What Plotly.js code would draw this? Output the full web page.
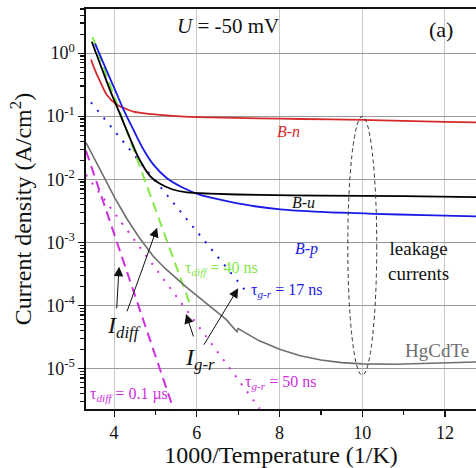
<!DOCTYPE html>
<html>
<head>
<meta charset="utf-8">
<script src="https://cdn.plot.ly/plotly-3.0.1.min.js"></script>
<style>
  html, body { margin: 0; padding: 0; background: #fff; }
  #chart { width: 476px; height: 468px; }
</style>
</head>
<body>
<div id="chart"></div>
<script>
// ---- data (x = 1000/T in 1/K, y = current density in A/cm^2) ----
const bnX = [3.44, 3.55, 3.66, 3.82, 4.07, 4.23, 4.47, 4.79, 5.11, 5.6, 6.32, 7.5, 8.5, 10, 11, 12, 12.75];
const bnY = [0.794, 0.513, 0.355, 0.219, 0.151, 0.135, 0.1175, 0.1096, 0.1047, 0.0989, 0.0955, 0.0923, 0.0902, 0.0871, 0.0841, 0.0813, 0.0794];

const buX = [3.46, 3.7, 3.92, 4.15, 4.39, 4.59, 4.87, 5.1, 5.4, 5.76, 6.32, 7.5, 9, 11, 12.75];
const buY = [1.514, 0.575, 0.240, 0.1047, 0.0437, 0.0219, 0.01122, 0.00851, 0.00692, 0.00617, 0.00589, 0.00562, 0.00550, 0.00537, 0.00519];

const bpX = [3.54, 3.78, 4.02, 4.23, 4.47, 4.71, 4.95, 5.27, 5.68, 6.08, 6.32, 6.81, 7.4, 8.02, 9.0, 10.27, 11.5, 12.75];
const bpY = [1.413, 0.603, 0.263, 0.126, 0.0603, 0.0295, 0.0170, 0.01047, 0.00724, 0.00562, 0.00513, 0.00437, 0.00372, 0.00331, 0.00302, 0.00282, 0.00269, 0.00257];

const hgX = [3.32, 3.66, 4.02, 4.3, 4.61, 4.94, 5.24, 5.74, 6.3, 6.7, 6.97, 7.0, 7.5, 8.0, 8.5, 9.0, 9.5, 10, 10.8, 11.5, 12.2, 12.75];
const hgY = [0.0380, 0.01413, 0.00501, 0.00240, 0.001175, 6.03e-4, 3.80e-4, 1.95e-4, 1.0e-4, 6.03e-5, 3.80e-5, 4.27e-5, 2.75e-5, 2.0e-5, 1.585e-5, 1.35e-5, 1.23e-5, 1.175e-5, 1.16e-5, 1.19e-5, 1.23e-5, 1.26e-5];

const diff40X = [3.48, 4.87, 5.85];
const diff40Y = [1.795, 0.00562, 9.8e-5];

const gr17X = [3.44, 5.35, 7.15];
const gr17Y = [0.166, 0.0049, 1.78e-4];

const diff100X = [3.32, 5.43];
const diff100Y = [0.0282, 2.3e-6];

const gr50X = [3.32, 5.82, 7.52];
const gr50Y = [0.01175, 7.4e-5, 2.29e-6];

const xTickVals = [4, 6, 8, 10, 12];
const yTickVals = [1e-5, 1e-4, 1e-3, 1e-2, 1e-1, 1];
const yTickText = ['10<sup>-5</sup>', '10<sup>-4</sup>', '10<sup>-3</sup>', '10<sup>-2</sup>', '10<sup>-1</sup>', '10<sup>0</sup>'];

// ---- styles ----
const SERIF = 'Liberation Serif, Times New Roman, serif';
const RED = '#d42a2a', BLUE = '#1a1ae6', GREEN = '#84e84a', MAG = '#d02ee0', GRAY = '#6e6e6e';

function line(x, y, color, width, dash, smooth) {
  return { x: x, y: y, type: 'scatter', mode: 'lines', hoverinfo: 'skip',
           line: { color: color, width: width, dash: dash || 'solid',
                   shape: smooth ? 'spline' : 'linear', smoothing: 0.8 } };
}

const traces = [
  line(gr50X, gr50Y, MAG, 2, '2px,8px'),
  line(diff100X, diff100Y, MAG, 2, '10px,6px'),
  line(gr17X, gr17Y, BLUE, 2, '2px,8px'),
  line(diff40X, diff40Y, GREEN, 2, '10px,6px'),
  line(hgX, hgY, GRAY, 1.6),
  line(bnX, bnY, RED, 1.8, null, true),
  line(bpX, bpY, BLUE, 1.8, null, true),
  line(buX, buY, '#000', 1.8, null, true)
];

function txt(text, x, ly, size, color, opts) {
  return Object.assign({ text: text, x: x, y: ly, xref: 'x', yref: 'y', showarrow: false,
    xanchor: 'center', yanchor: 'middle', font: { family: SERIF, size: size, color: color } }, opts || {});
}
function arrow(tx, tly, hx, hly) {
  return { text: '', x: hx, y: hly, ax: tx, ay: tly, xref: 'x', yref: 'y', axref: 'x', ayref: 'y',
    showarrow: true, arrowhead: 2, arrowsize: 1.9, arrowwidth: 1, arrowcolor: '#111' };
}

const annotations = [
  txt('<i>U</i> = -50 mV', 6.76, 0.433, 21, '#111'),
  txt('(a)', 11.91, 0.37, 22, '#111'),
  txt('<i>B-n</i>', 8.21, -1.249, 16, RED),
  txt('<i>B-u</i>', 8.57, -2.37, 16, '#111'),
  txt('<i>B-p</i>', 8.64, -3.10, 16, BLUE),
  txt('leakage<br>currents', 11.37, -3.30, 19, '#111'),
  txt('HgCdTe', 11.81, -4.725, 19, GRAY),
  txt('τ<sub><i>g-r</i></sub> = 50 ns', 7.12, -5.23, 16, MAG, { xanchor: 'left' }),
  txt('τ<sub><i>g-r</i></sub> = 17 ns', 7.26, -3.77, 16, BLUE, { xanchor: 'left' }),
  txt('τ<sub><i>diff</i></sub> = 40 ns', 5.67, -3.41, 16, GREEN, { xanchor: 'left' }),
  txt('τ<sub><i>diff</i></sub> = 0.1 µs', 3.37, -5.42, 16, MAG, { xanchor: 'left' }),
  txt('<i>I</i><sub><i>diff</i></sub>', 3.78, -4.35, 24, '#111', { xanchor: 'left' }),
  txt('<i>I</i><sub><i>g-r</i></sub>', 5.67, -4.85, 24, '#111', { xanchor: 'left' }),
  arrow(4.06, -4.074, 4.12, -3.39),
  arrow(4.30, -4.12, 5.04, -2.77),
  arrow(5.93, -4.52, 5.74, -4.14),
  arrow(6.15, -4.65, 7.0, -3.73)
];

const layout = {
  width: 476, height: 468,
  margin: { l: 86, r: 0, t: 9, b: 59, pad: 0 },
  paper_bgcolor: '#fff', plot_bgcolor: '#fff',
  showlegend: false,
  font: { family: SERIF, color: '#111' },
  xaxis: {
    range: [3.32, 12.75],
    tickmode: 'array', tickvals: xTickVals,
    ticks: 'outside', ticklen: 6, tickwidth: 1.2, tickcolor: '#111',
    minor: { dtick: 1, tick0: 0, ticks: 'outside', ticklen: 4, tickcolor: '#111', showgrid: false },
    showgrid: true, gridcolor: '#c8c8c8', gridwidth: 1,
    showline: true, linecolor: '#111', linewidth: 1.6, mirror: true,
    zeroline: false,
    tickfont: { family: SERIF, size: 18, color: '#111' },
    ticklabelstandoff: 1,
    title: { text: '1000/Temperature (1/K)', font: { family: SERIF, size: 24, color: '#111' }, standoff: 10 }
  },
  yaxis: {
    type: 'log',
    range: [-5.646, 0.70],
    tickmode: 'array', tickvals: yTickVals, ticktext: yTickText,
    ticks: 'outside', ticklen: 6, tickwidth: 1.2, tickcolor: '#111',
    minor: { dtick: 'D1', ticks: 'outside', ticklen: 4, tickcolor: '#111', showgrid: false },
    showgrid: true, gridcolor: '#9a9a9a', gridwidth: 1,
    showline: true, linecolor: '#111', linewidth: 1.6, mirror: false,
    zeroline: false,
    tickfont: { family: SERIF, size: 18, color: '#111' },
    title: { text: 'Current density (A/cm<sup>2</sup>)', font: { family: SERIF, size: 24, color: '#111' }, standoff: 8 }
  },
  shapes: [
    { type: 'circle', xref: 'x', yref: 'y', x0: 9.65, x1: 10.35, y0: 7.8e-6, y1: 0.099,
      line: { color: '#333', width: 1, dash: '4px,3px' } }
  ],
  annotations: annotations
};

Plotly.newPlot('chart', traces, layout, { staticPlot: true, displayModeBar: false });
</script>
</body>
</html>
